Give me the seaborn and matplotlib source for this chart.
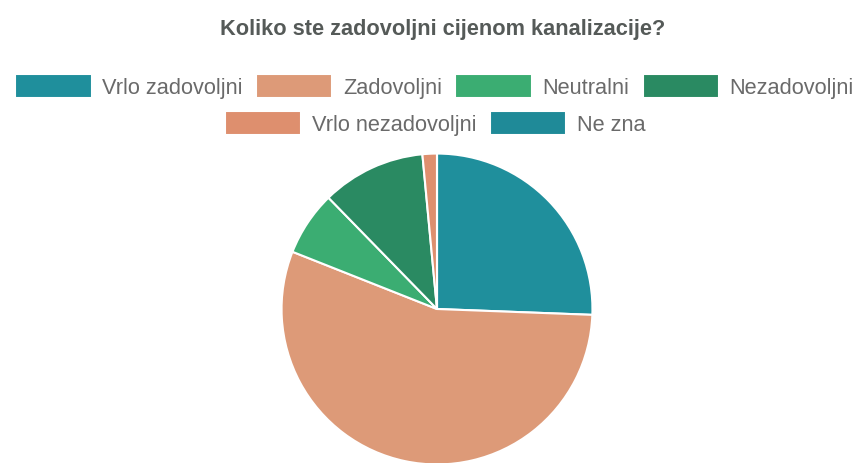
import matplotlib
matplotlib.use("Agg")
import matplotlib.pyplot as plt
import seaborn as sns

categories = ["Vrlo zadovoljni", "Zadovoljni", "Neutralni", "Nezadovoljni",
              "Vrlo nezadovoljni", "Ne zna"]
values = [25.6, 55.4, 6.7, 10.8, 1.5, 0.0]
colors = ["#1f8f9c", "#dd9a78", "#3bad72", "#2a8a62", "#de8f6e", "#1f8a98"]
title = "Koliko ste zadovoljni cijenom kanalizacije?"

sns.set_theme(style="white")
plt.rcParams["font.family"] = ["Liberation Sans", "DejaVu Sans"]

fig = plt.figure(figsize=(8.64, 4.64), dpi=100)
fig.patch.set_facecolor("white")

fig.text(0.512, 1 - 30 / 464, title, ha="center", va="center",
         fontsize=15.7, fontweight="bold", color="#555a58")

ax = fig.add_axes([280 / 864, 1 - 467 / 464, 314 / 864, 314 / 464])
wedges, _ = ax.pie(values, colors=colors, startangle=90, counterclock=False,
                   radius=1.0, wedgeprops=dict(edgecolor="white", linewidth=1.5))
ax.set_xlim(-1.01, 1.01)
ax.set_ylim(-1.01, 1.01)
ax.set_aspect("auto")
ax.axis("off")

leg_kw = dict(frameon=False, fontsize=15.7, labelcolor="#6a6a6a",
              handlelength=3.5, handleheight=1.3, handletextpad=0.5,
              columnspacing=0.6, borderaxespad=0, borderpad=0)
leg1 = fig.legend(wedges[:4], categories[:4], loc="center",
                  bbox_to_anchor=(0.503, 1 - 87 / 464), ncol=4, **leg_kw)
leg2 = fig.legend(wedges[4:], categories[4:], loc="center",
                  bbox_to_anchor=(0.504, 1 - 124 / 464), ncol=2, **leg_kw)

fig.savefig("out.png", dpi=100, facecolor="white")
